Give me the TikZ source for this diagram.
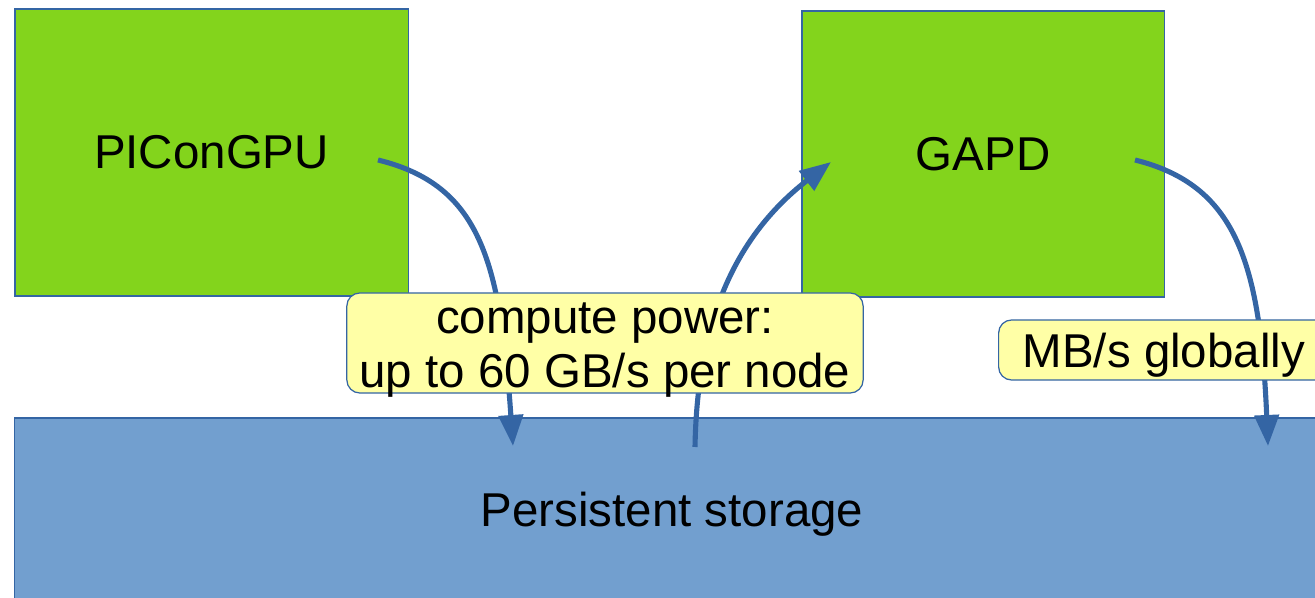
\documentclass[tikz,border=0pt]{standalone}
\usepackage{fontspec}
\setmainfont{Liberation Sans}
\usetikzlibrary{arrows.meta}
\definecolor{boxgreen}{HTML}{83D41C}
\definecolor{edgeblue}{HTML}{3465A4}
\definecolor{storeblue}{HTML}{729FCF}
\definecolor{labelyellow}{HTML}{FFFFA6}
\tikzset{
  greenbox/.style={draw=edgeblue, line width=0.35pt, fill=boxgreen, inner sep=0pt, font=\fontsize{13.5}{16}\selectfont},
  storebox/.style={draw=edgeblue, line width=0.35pt, fill=storeblue, inner sep=0pt},
  labelbox/.style={draw=edgeblue, line width=0.35pt, fill=labelyellow, rounded corners=0.13cm, inner sep=0pt},
  bigtext/.style={font=\fontsize{13.5}{15.4}\selectfont, align=center, inner sep=0pt},
  flow/.style={draw=edgeblue, line width=1.45pt, -{Triangle[length=0.31cm,width=0.24cm]}}
}
\begin{document}
\begin{tikzpicture}[x=0.01cm,y=-0.01cm]
\useasboundingbox (0,0) rectangle (1315,598);
\clip (0,0) rectangle (1315,598);
\node[greenbox, minimum width=3.93cm, minimum height=2.87cm] (pic) at (211.5,152.5) {PIConGPU};
\node[greenbox, minimum width=3.62cm, minimum height=2.86cm] (gapd) at (983,154) {GAPD};
\node[storebox, minimum width=13.15cm, minimum height=1.92cm] (store) at (672.5,514) {};
\node[bigtext] (storetxt) at (672,514) {Persistent storage};
\coordinate (a1s) at (378,160);
\coordinate (a1e) at (513,446);
\coordinate (a2s) at (695,447);
\coordinate (a2e) at (831,162);
\coordinate (a3s) at (1135,160);
\coordinate (a3e) at (1268,446);
\draw[flow] (a1s) .. controls (480,185) and (500,260) .. (a1e);
\draw[flow] (a2s) .. controls (697,330) and (730,240) .. (a2e);
\draw[flow] (a3s) .. controls (1235,185) and (1260,260) .. (a3e);
\node[labelbox, minimum width=5.16cm, minimum height=1.0cm] (lab1) at (605,343) {};
\node[bigtext] (lab1txt) at (605,350) {compute power:\\up to 60 GB/s per node};
\node[labelbox, anchor=west, minimum width=3.4cm, minimum height=0.6cm] (lab2) at (998,350) {};
\node[bigtext, anchor=west] (lab2txt) at (1022,355) {MB/s globally};
\end{tikzpicture}
\end{document}
